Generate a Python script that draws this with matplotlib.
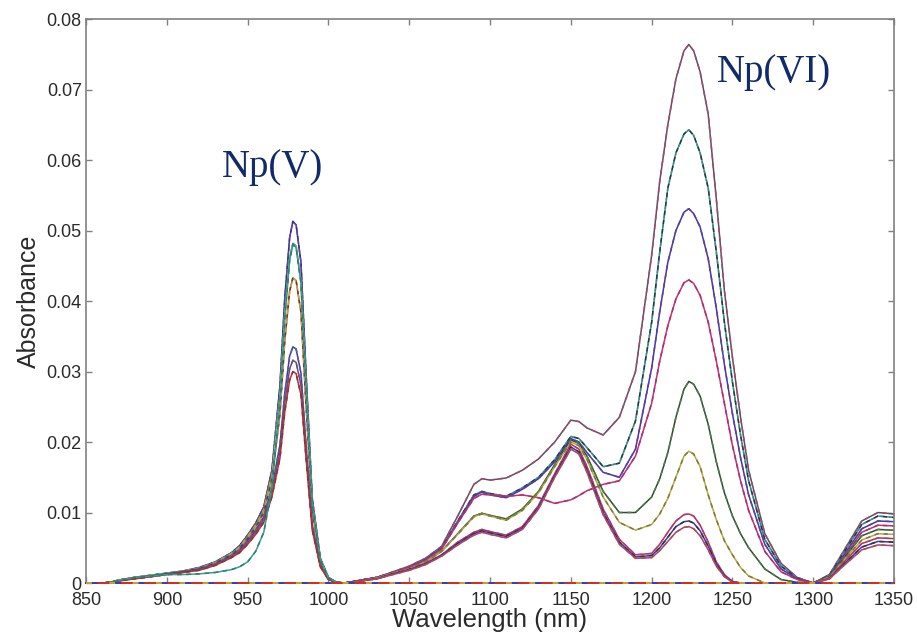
import numpy as np
import matplotlib
matplotlib.use("Agg")
import matplotlib.pyplot as plt
from matplotlib.ticker import FuncFormatter

# ---- data ----
# 980 nm band (Np(V)), wavelengths in nm
wl_v = [850, 860, 865, 870, 880, 890, 900, 910, 920, 930, 940, 945, 950, 955,
        960, 965, 970, 973, 976, 978, 980, 983, 986, 990, 995, 1000, 1005, 1010]

v1 = [0, 0, .0001, .0004, .0008, .0011, .0014, .0017, .0022, .0030, .0043, .0053, .0068, .0085,
      .0108, .0160, .0280, .0405, .0490, .0513, .0508, .0455, .0305, .0120, .0035, .0008, .0001, 0]
v2 = [0, 0, .0001, .0004, .0008, .0011, .0014, .0017, .0021, .0029, .0042, .0051, .0066, .0082,
      .0104, .0153, .0265, .0382, .0461, .0482, .0478, .0428, .0287, .0113, .0033, .0007, .0001, 0]
v3 = [0, 0, .0001, .0003, .0007, .0010, .0013, .0016, .0020, .0028, .0040, .0049, .0063, .0079,
      .0100, .0146, .0240, .0344, .0414, .0433, .0429, .0384, .0258, .0103, .0030, .0006, .0001, 0]
v4 = [0, 0, .0001, .0003, .0007, .0010, .0013, .0016, .0020, .0027, .0039, .0047, .0060, .0075,
      .0094, .0134, .0196, .0270, .0322, .0335, .0332, .0298, .0201, .0083, .0025, .0005, .0001, 0]
v5 = [0, 0, .0001, .0003, .0006, .0009, .0012, .0015, .0019, .0026, .0037, .0045, .0057, .0072,
      .0090, .0128, .0186, .0256, .0304, .0316, .0313, .0281, .0190, .0079, .0024, .0005, .0001, 0]
v6 = [0, 0, .0001, .0003, .0006, .0009, .0012, .0015, .0018, .0025, .0036, .0043, .0055, .0069,
      .0086, .0122, .0177, .0243, .0288, .0300, .0297, .0267, .0181, .0075, .0023, .0005, .0001, 0]
v7 = [0, 0, .0001, .0004, .0008, .0010, .0012, .0012, .0013, .0015, .0019, .0023, .0030, .0045,
      .0072, .0135, .0255, .0375, .0458, .0480, .0476, .0426, .0286, .0112, .0033, .0007, .0001, 0]

# 1100-1350 nm region (Np(VI) band at 1223 nm)
wl_vi = [1010, 1020, 1030, 1040, 1050, 1060, 1070, 1080, 1090,
         1095, 1100, 1110, 1120, 1130, 1140, 1150, 1155, 1160, 1170, 1180, 1190,
         1200, 1205, 1210, 1215, 1220, 1223, 1226, 1230, 1235, 1240, 1245, 1250, 1255, 1260,
         1270, 1280, 1290, 1300, 1310, 1320, 1330, 1340, 1350]

g1 = [0, .0004, .0008, .0016, .0024, .0035, .0052, .0095, .0140,
      .0148, .0146, .0149, .0160, .0176, .0200, .0231, .0229, .0220, .0210, .0235, .0300,
      .0465, .0570, .0650, .0715, .0755, .0764, .0755, .0725, .0665, .0545, .0415, .0320, .0235, .0160,
      .0070, .0028, .0008, 0, .0012, .0050, .0088, .0100, .0098]
g2 = [0, .0004, .0008, .0015, .0022, .0033, .0050, .0088, .0125,
      .0130, .0127, .0123, .0135, .0150, .0175, .0208, .0205, .0192, .0165, .0170, .0230,
      .0370, .0470, .0560, .0610, .0637, .0643, .0635, .0610, .0560, .0470, .0370, .0285, .0210, .0145,
      .0062, .0024, .0007, 0, .0011, .0047, .0083, .0095, .0093]
g3 = [0, .0004, .0008, .0015, .0022, .0033, .0049, .0086, .0123,
      .0129, .0125, .0121, .0133, .0148, .0172, .0205, .0200, .0185, .0157, .0150, .0190,
      .0305, .0385, .0455, .0500, .0526, .0531, .0524, .0505, .0460, .0390, .0310, .0240, .0178, .0125,
      .0055, .0020, .0006, 0, .0010, .0043, .0077, .0088, .0087]
g4 = [0, .0004, .0008, .0015, .0022, .0032, .0048, .0085, .0120,
      .0126, .0125, .0123, .0125, .0121, .0113, .0118, .0124, .0131, .0140, .0145, .0180,
      .0255, .0315, .0365, .0403, .0426, .0430, .0425, .0408, .0370, .0315, .0255, .0195, .0145, .0103,
      .0045, .0016, .0005, 0, .0009, .0040, .0072, .0082, .0081]
g5 = [0, .0003, .0007, .0014, .0020, .0030, .0045, .0070, .0095,
      .0099, .0096, .0091, .0105, .0130, .0168, .0203, .0198, .0180, .0130, .0100, .0100,
      .0122, .0148, .0185, .0235, .0275, .0286, .0282, .0265, .0225, .0172, .0128, .0095, .0070, .0050,
      .0020, .0005, .0001, 0, .0009, .0038, .0067, .0076, .0075]
g6 = [0, .0003, .0007, .0014, .0020, .0030, .0045, .0069, .0094,
      .0098, .0095, .0089, .0103, .0128, .0165, .0200, .0195, .0175, .0122, .0086, .0075,
      .0083, .0098, .0120, .0150, .0180, .0187, .0183, .0165, .0125, .0090, .0060, .0040, .0022, .0010,
      0, 0, 0, 0, .0008, .0035, .0061, .0070, .0069]
g7a = [0, .0003, .0006, .0013, .0019, .0028, .0040, .0058, .0072,
       .0076, .0073, .0068, .0080, .0110, .0155, .0197, .0190, .0165, .0105, .0062, .0040,
       .0042, .0055, .0072, .0088, .0097, .0098, .0095, .0082, .0058, .0030, .0012, .0002, 0, 0,
       0, 0, 0, 0, .0007, .0032, .0056, .0064, .0063]
g7b = [0, .0003, .0006, .0013, .0019, .0027, .0039, .0056, .0070,
       .0074, .0071, .0066, .0078, .0107, .0152, .0193, .0186, .0160, .0100, .0058, .0037,
       .0039, .0050, .0065, .0080, .0087, .0088, .0085, .0074, .0052, .0027, .0010, .0002, 0, 0,
       0, 0, 0, 0, .0006, .0029, .0051, .0059, .0058]
g7c = [0, .0003, .0006, .0012, .0018, .0026, .0038, .0054, .0068,
       .0072, .0069, .0064, .0076, .0105, .0150, .0190, .0183, .0157, .0097, .0055, .0035,
       .0036, .0046, .0059, .0072, .0079, .0080, .0077, .0067, .0047, .0024, .0009, .0001, 0, 0,
       0, 0, 0, 0, .0006, .0027, .0047, .0054, .0053]

# blank spectra lying on zero
wl_blank = [850, 1350]
blank = [0, 0]

# replicate colours seen on each curve (MATLAB-like, washed out)
band_v = [(v1, ['#3b3bb0', '#7a3a9a', '#333388']),
          (v2, ['#3a9a3a', '#b8b040', '#3aa0a0']),
          (v3, ['#a0522d', '#c8a040', '#803030']),
          (v4, ['#3a3ab8', '#5a5aa0']),
          (v5, ['#804080', '#606060']),
          (v6, ['#c03030', '#903030']),
          (v7, ['#30a0a0', '#308060'])]
band_vi = [(g1, ['#555555', '#b04080']),
           (g2, ['#30a0a0', '#333333', '#3a8a8a']),
           (g3, ['#3a3ab0', '#6a3a9a']),
           (g4, ['#c03080', '#b03060']),
           (g5, ['#404040', '#3a8a3a']),
           (g6, ['#b8a840', '#7a7a3a']),
           (g7a, ['#c03030', '#a03ab0']),
           (g7b, ['#3a3ab0', '#333333']),
           (g7c, ['#b03a8a', '#a05a3a'])]
blank_colors = ['#3040b0', '#d0a030', '#d03020']


def draw(ax, wl, vals, colors):
    """Overlapping replicates: first solid, the rest dashed on top."""
    dashes = [None, (0, (3, 3)), (2, (2, 4))]
    for k, c in enumerate(colors):
        ls = '-' if dashes[k] is None else dashes[k]
        ax.plot(wl, vals, color=c, lw=1.1, ls=ls)


fig = plt.figure(figsize=(9.17, 6.36), dpi=100)
ax = fig.add_axes([0.0938, 0.0833, 0.8812, 0.8867])

for vals, cols in band_v:
    draw(ax, wl_v, vals, cols)
for vals, cols in band_vi:
    draw(ax, wl_vi, vals, cols)
for k, c in enumerate(blank_colors):
    ax.plot(wl_blank, blank, color=c, lw=1.4, ls='-' if k == 0 else (k * 3, (6, 6)),
            clip_on=False, zorder=3)

ax.set_xlim(850, 1350)
ax.set_ylim(0, 0.08)
ax.set_xticks(np.arange(850, 1351, 50))
ax.set_yticks(np.arange(0, 0.0801, 0.01))
ax.yaxis.set_major_formatter(FuncFormatter(lambda v, p: '0' if abs(v) < 1e-9 else f'{v:.2f}'))

font = 'Liberation Sans'
ax.tick_params(direction='in', top=True, right=True, length=4.5, width=1,
               color='#808080', labelcolor='#2a2a2a', labelsize=13)
ax.tick_params(axis='x', pad=6.5)
ax.tick_params(axis='y', pad=3)
for lab in ax.get_xticklabels() + ax.get_yticklabels():
    lab.set_fontfamily(font)
for s in ax.spines.values():
    s.set_color('#808080')
    s.set_linewidth(1.2)

ax.set_xlabel('Wavelength (nm)', fontsize=18.5, family=font, color='#2a2a2a', labelpad=-1)
ax.set_ylabel('Absorbance', fontsize=18, family=font, color='#2a2a2a', labelpad=4)

ax.text(934, 0.0576, 'Np(V)', family='Liberation Serif', fontsize=28, color='#102a6a',
        ha='left', va='baseline')
ax.text(1240.5, 0.0711, 'Np(VI)', family='Liberation Serif', fontsize=28, color='#102a6a',
        ha='left', va='baseline')

fig.savefig('out.png', dpi=100)
